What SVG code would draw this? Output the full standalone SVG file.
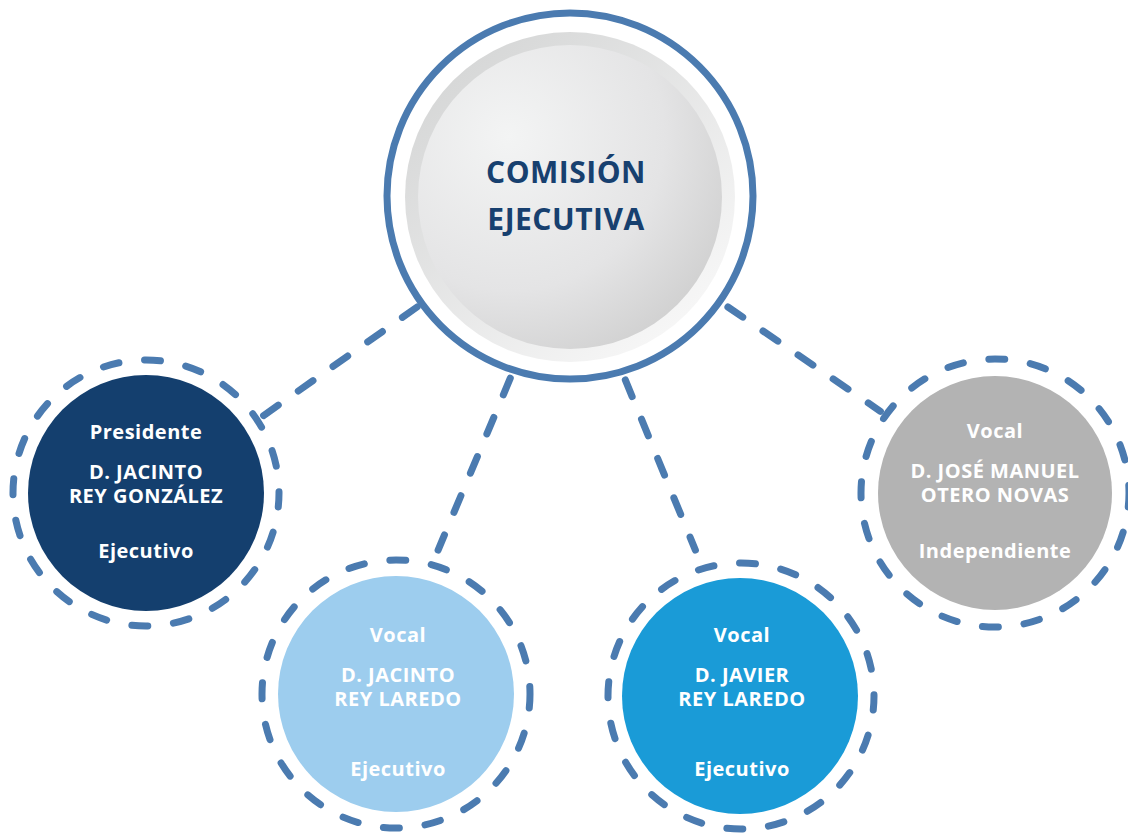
<svg xmlns="http://www.w3.org/2000/svg" width="1128" height="834" viewBox="0 0 1128 834">
<defs>
<linearGradient id="bevel" x1="0.15" y1="0.1" x2="0.85" y2="0.9">
<stop offset="0" stop-color="#d6d7d7"/>
<stop offset="1" stop-color="#f7f7f7"/>
</linearGradient>
<radialGradient id="face" cx="0.3" cy="0.3" r="0.85">
<stop offset="0" stop-color="#f3f4f4"/>
<stop offset="0.6" stop-color="#e4e4e5"/>
<stop offset="1" stop-color="#cdcdcd"/>
</radialGradient>
<style>
.ring{fill:none;stroke:#4b7bb0;stroke-width:7;stroke-linecap:round;stroke-dasharray:16 25.8;stroke-dashoffset:2}
.conn{fill:none;stroke:#4b7bb0;stroke-width:7;stroke-linecap:round;stroke-dasharray:18 24.5}
.t{font-family:"Open Sans","Liberation Sans",sans-serif;font-weight:700;font-size:20px;letter-spacing:0.5px;fill:#ffffff;text-anchor:middle}
.c{font-family:"Open Sans","Liberation Sans",sans-serif;font-weight:700;font-size:30px;letter-spacing:0.5px;fill:#17406f;text-anchor:middle}
</style>
</defs>
<rect width="1128" height="834" fill="#ffffff"/>
<g id="connectors">
<line class="conn" x1="417.1" y1="307.0" x2="262.9" y2="416.0"/>
<line class="conn" x1="510.3" y1="378.2" x2="438.1" y2="550.1"/>
<line class="conn" x1="625.3" y1="379.9" x2="695.4" y2="550.1"/>
<line class="conn" x1="727.9" y1="307.0" x2="880.4" y2="411.3"/>
</g>
<g id="comision">
<circle cx="570" cy="196" r="183" fill="#ffffff" stroke="#4b7bb0" stroke-width="7"/>
<circle cx="570" cy="197" r="165" fill="url(#bevel)"/>
<circle cx="570" cy="197" r="152" fill="url(#face)"/>
<text class="c" x="566" y="183">COMISIÓN</text>
<text class="c" x="566" y="230">EJECUTIVA</text>
</g>
<g id="presidente">
<circle class="ring" cx="146" cy="493" r="133"/>
<circle cx="146" cy="493" r="118" fill="#143f6e"/>
<text class="t" x="146" y="439">Presidente</text>
<text class="t" x="146" y="479">D. JACINTO</text>
<text class="t" x="146" y="503">REY GONZÁLEZ</text>
<text class="t" x="146" y="558">Ejecutivo</text>
</g>
<g id="vocal-jacinto">
<circle class="ring" cx="396" cy="694" r="134"/>
<circle cx="396" cy="694" r="118" fill="#9dcdee"/>
<text class="t" x="398" y="642">Vocal</text>
<text class="t" x="398" y="682">D. JACINTO</text>
<text class="t" x="398" y="706">REY LAREDO</text>
<text class="t" x="398" y="776">Ejecutivo</text>
</g>
<g id="vocal-javier">
<circle class="ring" cx="741" cy="696" r="133"/>
<circle cx="740" cy="696" r="118" fill="#1a9bd7"/>
<text class="t" x="742" y="642">Vocal</text>
<text class="t" x="742" y="682">D. JAVIER</text>
<text class="t" x="742" y="706">REY LAREDO</text>
<text class="t" x="742" y="776">Ejecutivo</text>
</g>
<g id="vocal-jose">
<circle class="ring" cx="995" cy="493" r="134"/>
<circle cx="995" cy="493" r="117" fill="#b3b3b3"/>
<text class="t" x="995" y="438">Vocal</text>
<text class="t" x="995" y="478">D. JOSÉ MANUEL</text>
<text class="t" x="995" y="502">OTERO NOVAS</text>
<text class="t" x="995" y="558">Independiente</text>
</g>
</svg>
